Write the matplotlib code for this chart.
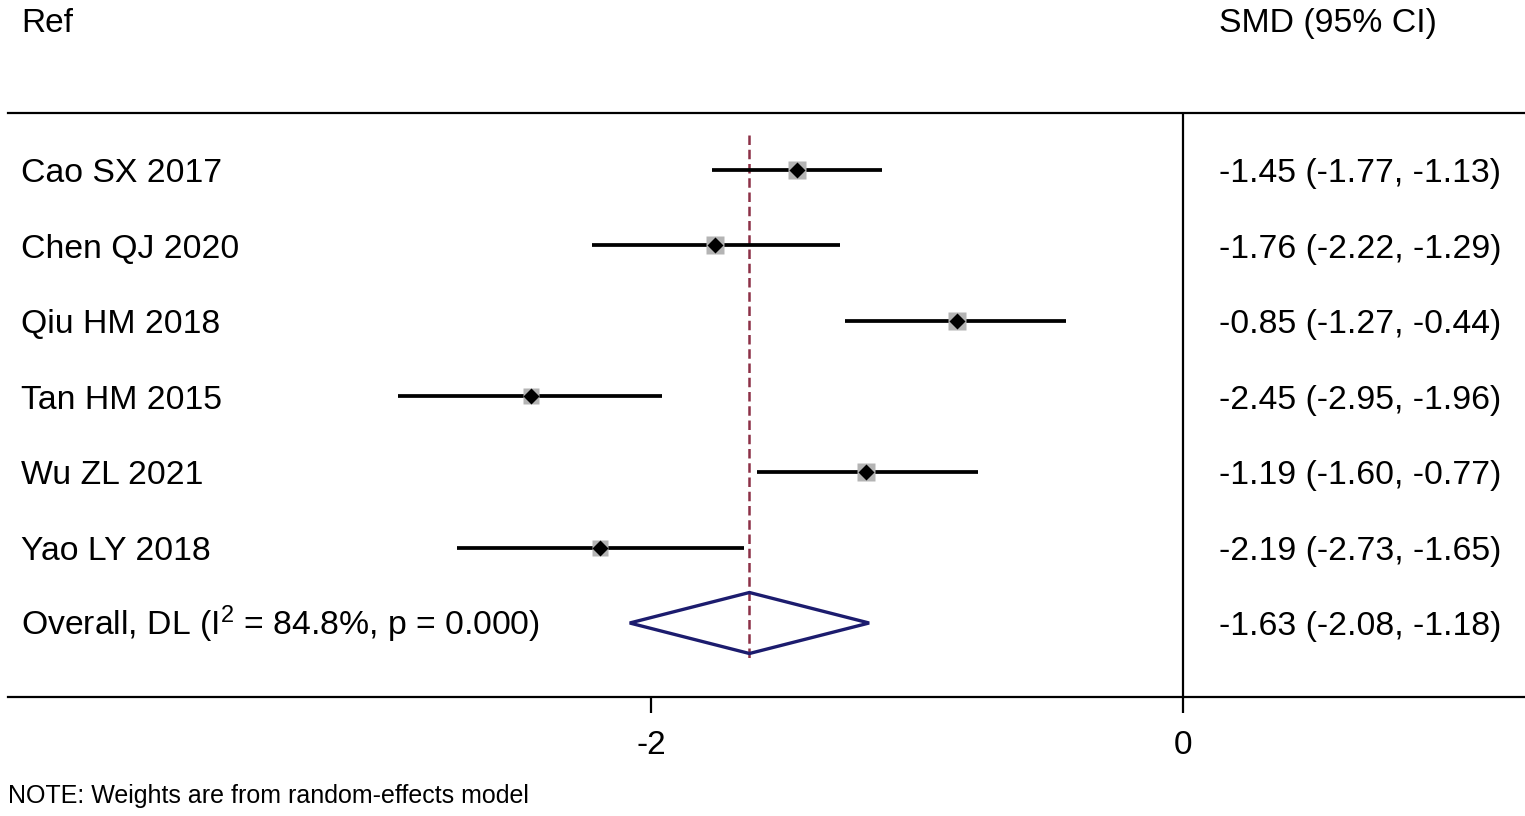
import numpy as np
import matplotlib
matplotlib.use("Agg")
import matplotlib.pyplot as plt
import matplotlib.transforms as mtransforms

plt.rcParams['font.family'] = ['Liberation Sans', 'DejaVu Sans']
plt.rcParams['mathtext.fontset'] = 'custom'
plt.rcParams['mathtext.rm'] = 'Liberation Sans'
plt.rcParams['mathtext.default'] = 'regular'

# data
studies = ["Cao SX 2017", "Chen QJ 2020", "Qiu HM 2018",
           "Tan HM 2015", "Wu ZL 2021", "Yao LY 2018"]
smd = [-1.45, -1.76, -0.85, -2.45, -1.19, -2.19]
lower = [-1.77, -2.22, -1.27, -2.95, -1.60, -2.73]
upper = [-1.13, -1.29, -0.44, -1.96, -0.77, -1.65]
weights = [18.0, 16.4, 17.0, 16.1, 17.0, 15.5]  # % (random effects), only used for box size
overall = -1.63
overall_lo = -2.08
overall_hi = -1.18
overall_label = "Overall, DL (I$^{2}$ = 84.8%, p = 0.000)"
xticks = [-2, 0]

W, H = 1525, 816
fig = plt.figure(figsize=(W / 100, H / 100), dpi=100)
# axes box: frame lines at pixel rows 113 / 697, from x=8 to the right edge
ax = fig.add_axes([8 / W, (H - 697) / H, 1 - 8 / W, (697 - 113) / H])

# x scale: -2 at px 651, 0 at px 1183
px_per_unit = (1183 - 651) / 2
ax.set_xlim((8 - 1183) / px_per_unit, (W - 1183) / px_per_unit)
# y scale in rows: row 0 at px 170, 75.5 px per row
row0, rowh = 170, 75.5
ax.set_ylim((697 - row0) / rowh, (113 - row0) / rowh)

for s in ['left', 'right']:
    ax.spines[s].set_visible(False)
for s in ['top', 'bottom']:
    ax.spines[s].set_linewidth(1.6)
ax.set_yticks([])
ax.set_xticks(xticks)
ax.set_xticklabels([str(t) for t in xticks], fontsize=24)
ax.tick_params(axis='x', direction='out', length=11.5, width=1.6, pad=12)

# null line
ax.axvline(0, color='black', lw=1.6)

rows = np.arange(len(studies))
n = len(studies)

# overall dashed line
ax.vlines(overall, (135 - row0) / rowh, (660 - row0) / rowh,
          color='#8c3046', lw=1.8, linestyles=(0, (3.8, 1.9)), zorder=2)

# CI lines
ax.hlines(rows, lower, upper, color='black', lw=2.7, zorder=3)
# weight boxes
box = 12.4 * np.sqrt(np.array(weights) / np.mean(weights))
for r, x, b in zip(rows, smd, box):
    ax.plot(x, r, marker='s', ms=b, color='#b4b4b4', mec='none', zorder=4)
ax.plot(smd, rows, 'D', ms=8.0, color='black', mec='none', zorder=5)

# overall diamond
dh = (652 - 591) / 2 / rowh
ax.fill([overall_lo, overall, overall_hi, overall, overall_lo],
        [n, n - dh, n, n + dh, n], facecolor='none',
        edgecolor='#1c1c6e', lw=2.4, zorder=3)

# text columns: x in figure fraction, y in rows (baseline ~13 px below row centre)
tt = mtransforms.blended_transform_factory(fig.transFigure, ax.transData)
xl = 21 / W
xr = 1219 / W
base = 12.5 / rowh
hdr = (32 - row0) / rowh
ax.text(xl, hdr, "Ref", transform=tt, fontsize=24, va='baseline', ha='left', clip_on=False)
ax.text(xr, hdr, "SMD (95% CI)", transform=tt, fontsize=24.3, va='baseline', ha='left', clip_on=False)

for r, name, m, lo, hi in zip(rows, studies, smd, lower, upper):
    ax.text(xl, r + base, name, transform=tt, fontsize=24.3, va='baseline', ha='left', clip_on=False)
    ax.text(xr, r + base, "%.2f (%.2f, %.2f)" % (m, lo, hi), transform=tt, fontsize=24.3,
            va='baseline', ha='left', clip_on=False)

ax.text(xl, n + base, overall_label, transform=tt, fontsize=24.3, va='baseline', ha='left',
        clip_on=False)
ax.text(xr, n + base, "%.2f (%.2f, %.2f)" % (overall, overall_lo, overall_hi), transform=tt,
        fontsize=24.3, va='baseline', ha='left', clip_on=False)

fig.text(8 / W, 1 - 796 / H, "NOTE: Weights are from random-effects model",
         fontsize=18, va='center', ha='left')

fig.savefig("out.png", dpi=100)
